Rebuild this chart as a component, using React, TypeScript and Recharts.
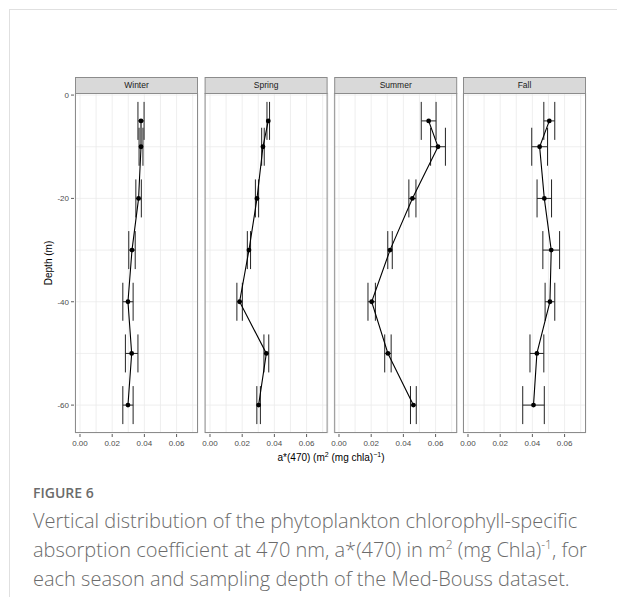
import React from 'react';
import { ScatterChart, Scatter, XAxis, YAxis, CartesianGrid, ErrorBar } from 'recharts';

// seasons and sampling depths (m)
const seasons = ['Winter', 'Spring', 'Summer', 'Fall'];
const depths = [-5, -10, -20, -30, -40, -50, -60];

// a*(470) mean and error per depth
const winterMean = [0.0379, 0.0379, 0.0364, 0.0323, 0.0298, 0.0321, 0.0298];
const winterErr = [0.0019, 0.0012, 0.0017, 0.002, 0.0032, 0.0039, 0.0032];
const springMean = [0.0362, 0.0329, 0.0292, 0.0242, 0.0184, 0.035, 0.0302];
const springErr = [0.0008, 0.0008, 0.001, 0.001, 0.0017, 0.0015, 0.0011];
const summerMean = [0.0557, 0.0615, 0.0456, 0.0317, 0.0203, 0.0304, 0.0462];
const summerErr = [0.0046, 0.0046, 0.0022, 0.0014, 0.0023, 0.002, 0.0018];
const fallMean = [0.0505, 0.0445, 0.0474, 0.0517, 0.0509, 0.0428, 0.0407];
const fallErr = [0.0034, 0.0049, 0.0045, 0.0052, 0.003, 0.0043, 0.0067];

// ticks (minor ones only draw grid lines)
const xTicks = [0, 0.01, 0.02, 0.03, 0.04, 0.05, 0.06, 0.07];
const xMajor = [0, 0.02, 0.04, 0.06];
const yTicks = [0, -10, -20, -30, -40, -50, -60];
const yMajor = [0, -20, -40, -60];

const means = [winterMean, springMean, summerMean, fallMean];
const errs = [winterErr, springErr, summerErr, fallErr];

const X_DOMAIN: [number, number] = [-0.0031, 0.0733];
const Y_DOMAIN: [number, number] = [-65.4, 0.4];

const FONT = '"Liberation Sans", Arial, sans-serif';
const PANEL_LEFTS = [75, 204.6, 334.2, 463];
const PANEL_W = 123;
const PANEL_TOP = 93;
const PANEL_H = 340;
const STRIP_H = 16;
const Y_AXIS_W = 35;
const PAD = 12; // room so edge tick labels are not clipped

const XTick = (props: any) => {
  const { x, y, payload } = props;
  if (!xMajor.includes(payload.value)) return null;
  return (
    <g>
      <line x1={x} x2={x} y1={y - 6} y2={y - 3} stroke="#333" strokeWidth={0.8} />
      <text x={x} y={y} dy="0.71em" textAnchor="middle" fontSize={8} fill="#4d4d4d" fontFamily={FONT}>
        {payload.value.toFixed(2)}
      </text>
    </g>
  );
};

const YTick = (props: any) => {
  const { x, y, payload } = props;
  if (!yMajor.includes(payload.value)) return null;
  return (
    <g>
      <line x1={x + 2} x2={x + 5} y1={y} y2={y} stroke="#333" strokeWidth={0.8} />
      <text x={x} y={y} dy="0.35em" textAnchor="end" fontSize={8} fill="#4d4d4d" fontFamily={FONT}>
        {payload.value}
      </text>
    </g>
  );
};

const Dot = (p: any) => <circle cx={p.cx} cy={p.cy} r={2.4} fill="#000" />;

const Panel = ({ index }: { index: number }) => {
  const data = depths.map((d, i) => ({ depth: d, a: means[index][i], err: errs[index][i] }));
  const yw = index === 0 ? Y_AXIS_W : 0;
  return (
    <div style={{ position: 'absolute', left: PANEL_LEFTS[index] - yw - PAD, top: PANEL_TOP - PAD }}>
      <ScatterChart
        width={PANEL_W + yw + 2 * PAD}
        height={PANEL_H + 30 + PAD}
        margin={{ top: PAD, right: PAD, bottom: 0, left: PAD }}
      >
        <CartesianGrid stroke="#ebebeb" strokeWidth={0.8} />
        <XAxis
          type="number"
          dataKey="a"
          domain={X_DOMAIN}
          allowDataOverflow
          ticks={xTicks}
          interval={0}
          height={30}
          tickLine={false}
          axisLine={false}
          tickSize={3}
          tickMargin={4}
          tick={<XTick />}
        />
        <YAxis
          type="number"
          dataKey="depth"
          domain={Y_DOMAIN}
          allowDataOverflow
          ticks={yTicks}
          interval={0}
          width={yw}
          hide={index !== 0}
          tickLine={false}
          axisLine={false}
          tickSize={3}
          tickMargin={3}
          tick={<YTick />}
        />
        <Scatter
          data={data}
          line={{ stroke: '#000', strokeWidth: 1.1 }}
          lineType="joint"
          shape={Dot}
          isAnimationActive={false}
        >
          <ErrorBar dataKey="err" direction="x" width={19} stroke="#222" strokeWidth={1} isAnimationActive={false} />
        </Scatter>
      </ScatterChart>
    </div>
  );
};

export default function App() {
  return (
    <div style={{ position: 'absolute', left: 0, top: 0, width: 617, height: 597, background: '#fff', overflow: 'hidden' }}>
      <div style={{ position: 'absolute', left: 9, top: 9, width: 640, height: 640, borderTop: '1px solid #e0e0e0', borderLeft: '1px solid #e0e0e0' }} />
      {seasons.map((s, i) => (
        <Panel key={s} index={i} />
      ))}
      <svg width={617} height={597} style={{ position: 'absolute', left: 0, top: 0, pointerEvents: 'none' }}>
        {seasons.map((s, i) => (
          <g key={s}>
            <rect x={PANEL_LEFTS[i] + 0.5} y={PANEL_TOP - STRIP_H + 0.5} width={PANEL_W - 1} height={STRIP_H} fill="#d9d9d9" stroke="#8c8c8c" strokeWidth={1} />
            <text x={PANEL_LEFTS[i] + PANEL_W / 2} y={PANEL_TOP - STRIP_H / 2} dy="0.35em" textAnchor="middle" fontSize={8.5} fill="#1a1a1a" fontFamily={FONT}>
              {s}
            </text>
            <rect x={PANEL_LEFTS[i] + 0.5} y={PANEL_TOP + 0.5} width={PANEL_W - 1} height={PANEL_H - 1} fill="none" stroke="#8c8c8c" strokeWidth={1} />
          </g>
        ))}
        <text x={48} y={263} transform="rotate(-90 48 263)" dy="0.35em" textAnchor="middle" fontSize={10} fill="#000" fontFamily={FONT}>
          Depth (m)
        </text>
        <text x={331} y={461} textAnchor="middle" fontSize={10} fill="#000" fontFamily={FONT}>
          a*(470) (m
          <tspan dy={-4} fontSize={7}>2</tspan>
          <tspan dy={4}> (mg chla)</tspan>
          <tspan dy={-4} fontSize={7}>−1</tspan>
          <tspan dy={4}>)</tspan>
        </text>
      </svg>
      <div style={{ position: 'absolute', left: 33, top: 483, fontFamily: '"Open Sans", sans-serif', color: '#6b6b6b' }}>
        <div style={{ fontSize: 14, fontWeight: 600, lineHeight: '20px' }}>FIGURE 6</div>
        <div style={{ fontSize: 20, fontWeight: 300, lineHeight: '29px', marginTop: 3, whiteSpace: 'nowrap' }}>
          Vertical distribution of the phytoplankton chlorophyll-specific
          <br />
          absorption coefficient at 470 nm, a*(470) in m
          <sup style={{ fontSize: 12, lineHeight: 0 }}>2</sup> (mg Chla)
          <sup style={{ fontSize: 12, lineHeight: 0 }}>-1</sup>, for
          <br />
          each season and sampling depth of the Med-Bouss dataset.
        </div>
      </div>
    </div>
  );
}
